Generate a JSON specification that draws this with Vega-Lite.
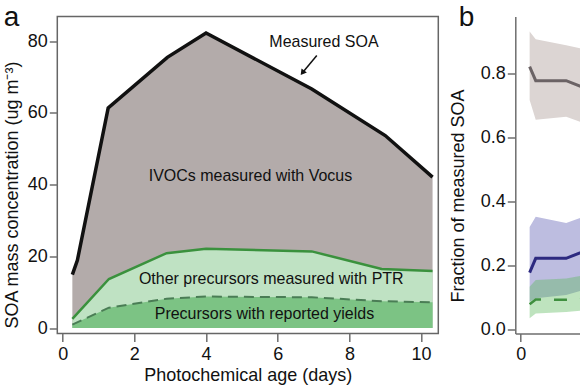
{
  "$schema": "https://vega.github.io/schema/vega-lite/v6.json",
  "background": "white",
  "padding": {"left": 2.3, "top": 2.5, "right": 0, "bottom": 0},
  "datasets": {
    "soa": [
      {"x": 0.27, "y": 14.9}, {"x": 0.41, "y": 18.9}, {"x": 1.27, "y": 61.4}, {"x": 2.92, "y": 75.5},
      {"x": 4.0, "y": 82.3}, {"x": 6.95, "y": 66.7}, {"x": 9.0, "y": 53.7}, {"x": 10.32, "y": 42.1}
    ],
    "ptr": [
      {"x": 0.27, "y": 2.6}, {"x": 1.29, "y": 13.7}, {"x": 2.9, "y": 20.9}, {"x": 4.0, "y": 22.1},
      {"x": 6.95, "y": 21.4}, {"x": 8.9, "y": 16.5}, {"x": 10.32, "y": 15.9}
    ],
    "yld": [
      {"x": 0.27, "y": 1.0}, {"x": 1.29, "y": 5.7}, {"x": 2.9, "y": 8.2}, {"x": 4.0, "y": 8.8},
      {"x": 6.95, "y": 8.6}, {"x": 8.9, "y": 7.5}, {"x": 10.32, "y": 7.2}
    ],
    "labels": [
      {"x": 7.29, "y": 79.9, "text": "Measured SOA"},
      {"x": 5.24, "y": 42.3, "text": "IVOCs measured with Vocus"},
      {"x": 5.82, "y": 13.7, "text": "Other precursors measured with PTR"},
      {"x": 5.63, "y": 3.96, "text": "Precursors with reported yields"}
    ],
    "arrow": [{"x": 7.09, "y": 76.0, "x2": 6.69, "y2": 71.2}],
    "fgrey": [
      {"x": 0.25, "mid": 0.823, "lo": 0.718, "hi": 0.933},
      {"x": 0.42, "mid": 0.779, "lo": 0.656, "hi": 0.909},
      {"x": 1.27, "mid": 0.779, "lo": 0.666, "hi": 0.89},
      {"x": 2.92, "mid": 0.705, "lo": 0.597, "hi": 0.85}
    ],
    "fblue": [
      {"x": 0.25, "mid": 0.177, "lo": 0.086, "hi": 0.32},
      {"x": 0.42, "mid": 0.222, "lo": 0.097, "hi": 0.352},
      {"x": 1.27, "mid": 0.222, "lo": 0.107, "hi": 0.333},
      {"x": 2.92, "mid": 0.296, "lo": 0.16, "hi": 0.4}
    ],
    "fgreen": [
      {"x": 0.25, "mid": 0.078, "lo": 0.034, "hi": 0.133},
      {"x": 0.42, "mid": 0.093, "lo": 0.049, "hi": 0.154},
      {"x": 1.27, "mid": 0.092, "lo": 0.054, "hi": 0.159},
      {"x": 2.92, "mid": 0.1, "lo": 0.07, "hi": 0.19}
    ]
  },
  "config": {
    "font": "Liberation Sans",
    "axis": {
      "labelFont": "Liberation Sans", "titleFont": "Liberation Sans",
      "labelFontSize": 18, "titleFontSize": 18, "titleFontWeight": "normal",
      "labelColor": "#111", "titleColor": "#111",
      "domainColor": "#6e6e6e", "tickColor": "#6e6e6e", "domainWidth": 1.5, "tickWidth": 1.5,
      "tickSize": 8, "labelPadding": 2, "grid": false
    },
    "title": {"font": "Liberation Sans", "fontSize": 28, "fontWeight": "normal", "color": "#111", "anchor": "start", "frame": "group", "baseline": "alphabetic"}
  },
  "hconcat": [
    {
      "width": 381, "height": 317,
      "title": {"text": "a", "dx": -53.5, "offset": -15.5},
      "view": {"stroke": "#666666", "strokeWidth": 1.5},
      "encoding": {
        "x": {"field": "x", "type": "quantitative",
          "scale": {"domain": [-0.15, 10.48], "nice": false, "zero": false},
          "axis": {"title": "Photochemical age (days)", "values": [0, 2, 4, 6, 8, 10], "domain": false, "labelPadding": 4, "titlePadding": 3}},
        "y": {"field": "y", "type": "quantitative",
          "scale": {"domain": [-1.5, 86.9], "nice": false, "zero": false},
          "axis": {"title": "SOA mass concentration (ug m⁻³)", "values": [0, 20, 40, 60, 80], "domain": false, "titlePadding": 6, "titleY": 178}}
      },
      "layer": [
        {"data": {"name": "soa"}, "mark": {"type": "area", "color": "#b3abaa"}, "encoding": {"y2": {"datum": 0}}},
        {"data": {"name": "ptr"}, "mark": {"type": "area", "color": "#bfe2c3"}, "encoding": {"y2": {"datum": 0}}},
        {"data": {"name": "yld"}, "mark": {"type": "area", "color": "#7cc384"}, "encoding": {"y2": {"datum": 0}}},
        {"data": {"name": "soa"}, "mark": {"type": "line", "color": "#111111", "strokeWidth": 3.5}, "encoding": {}},
        {"data": {"name": "ptr"}, "mark": {"type": "line", "color": "#3a913d", "strokeWidth": 2.5}, "encoding": {}},
        {"data": {"name": "yld"}, "mark": {"type": "line", "color": "#4a7d55", "strokeWidth": 2, "strokeDash": [10, 6]}, "encoding": {}},
        {"data": {"name": "labels"}, "mark": {"type": "text", "fontSize": 16, "font": "Liberation Sans", "color": "#111", "align": "center", "baseline": "middle"}, "encoding": {"text": {"field": "text"}}},
        {"data": {"name": "arrow"}, "mark": {"type": "rule", "color": "#111", "strokeWidth": 1.5}, "encoding": {"x2": {"field": "x2"}, "y2": {"field": "y2"}}},
        {"data": {"name": "arrow"}, "mark": {"type": "point", "shape": "triangle-up", "filled": true, "color": "#111", "size": 45, "angle": 217, "opacity": 1}, "encoding": {"x": {"field": "x2", "type": "quantitative"}, "y": {"field": "y2", "type": "quantitative"}}}
      ]
    },
    {
      "width": 65, "height": 317,
      "title": {"text": "b", "dx": -56.5, "offset": -15.5},
      "view": {"stroke": null},
      "encoding": {
        "x": {"field": "x", "type": "quantitative",
          "scale": {"domain": [-0.15, 1.664], "nice": false, "zero": false},
          "axis": {"title": null, "values": [0], "labelPadding": 4}}
      },
      "layer": [
        {"data": {"name": "fgrey"}, "mark": {"type": "area", "color": "#dcd5d3", "clip": true},
          "encoding": {"y": {"field": "lo", "type": "quantitative", "scale": {"domain": [-0.0136, 0.98], "nice": false, "zero": false},
            "axis": {"title": "Fraction of measured SOA", "values": [0, 0.2, 0.4, 0.6, 0.8], "format": ".1f", "titlePadding": 13, "titleY": 179}},
            "y2": {"field": "hi"}}},
        {"data": {"name": "fblue"}, "mark": {"type": "area", "color": "#bdbde0", "clip": true},
          "encoding": {"y": {"field": "lo", "type": "quantitative"}, "y2": {"field": "hi"}}},
        {"data": {"name": "fgreen"}, "mark": {"type": "area", "color": "#5cb85c", "opacity": 0.4, "clip": true},
          "encoding": {"y": {"field": "lo", "type": "quantitative"}, "y2": {"field": "hi"}}},
        {"data": {"name": "fgrey"}, "mark": {"type": "line", "color": "#6b6365", "strokeWidth": 3, "clip": true},
          "encoding": {"y": {"field": "mid", "type": "quantitative"}}},
        {"data": {"name": "fblue"}, "mark": {"type": "line", "color": "#2d2a80", "strokeWidth": 3, "clip": true},
          "encoding": {"y": {"field": "mid", "type": "quantitative"}}},
        {"data": {"name": "fgreen"}, "mark": {"type": "line", "color": "#3f8f3f", "strokeWidth": 2.5, "strokeDash": [13, 13], "clip": true},
          "encoding": {"y": {"field": "mid", "type": "quantitative"}}},
        {"data": {"values": [{}]}, "mark": {"type": "rule", "color": "#666666", "strokeWidth": 1.5},
          "encoding": {"y": {"datum": 0.98}}}
      ]
    }
  ],
  "spacing": 77,
  "bounds": "flush"
}
